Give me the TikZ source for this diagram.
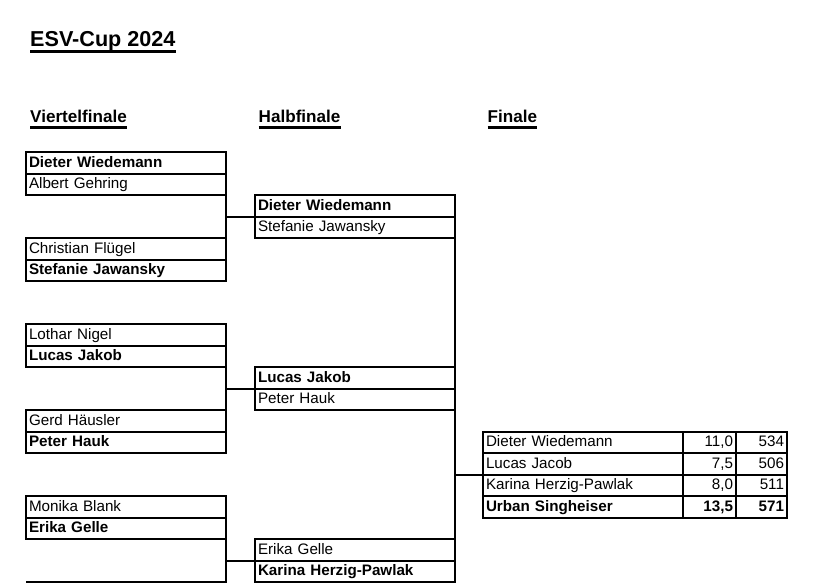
\documentclass[tikz,border=0pt]{standalone}
\usepackage{fontspec}
\setmainfont{Liberation Sans}
\usetikzlibrary{positioning}
\tikzset{
  % --- boxes
  cell/.style   = {rectangle, draw=black, line width=2pt, outer sep=0pt,
                   inner xsep=3pt, inner ysep=0pt, minimum height=21.5pt,
                   text height=11.5pt, text depth=2.5pt,
                   font=\fontsize{15.2}{18}\selectfont},
  player/.style = {cell, text width=194pt, align=left},
  winner/.style = {player, font=\fontsize{15.2}{18}\selectfont\bfseries},
  score/.style  = {cell, text width=47pt, align=right},
  points/.style = {cell, text width=45pt, align=right},
  best/.style   = {font=\fontsize{15.2}{18}\selectfont\bfseries},
  % --- headings
  title/.style  = {inner sep=0pt, anchor=base west,
                   font=\fontsize{21.6}{24}\selectfont\bfseries},
  head/.style   = {inner sep=0pt, anchor=base west,
                   font=\fontsize{17.1}{20}\selectfont\bfseries},
  % --- lines
  link/.style   = {draw=black, line width=2pt},
  uline/.style  = {draw=black, line width=2.8pt},
}
\begin{document}
\begin{tikzpicture}[x=1pt, y=-1pt]
  \useasboundingbox (0,0) rectangle (822,583);

  \node[title] (t) at (30,46.5) {ESV-Cup 2024};
  \draw[uline, line width=3.2pt] ([yshift=-5pt]t.base west) -- ([yshift=-5pt]t.base east);

  \node[head] (hv) at (30,123) {Viertelfinale};
  \node[head] (hh) at (258.5,123) {Halbfinale};
  \node[head] (hf) at (487.5,123) {Finale};
  \foreach \h in {hv,hh,hf}
    \draw[uline] ([yshift=-4.2pt]\h.base west) -- ([yshift=-4.2pt]\h.base east);

  % Viertelfinale
  \node[winner, anchor=north west] (q1a) at (26,152) {Dieter Wiedemann};
  \node[player, below=0pt of q1a] (q1b) {Albert Gehring};
  \node[player, anchor=north west] (q2a) at (26,238) {Christian Flügel};
  \node[winner, below=0pt of q2a] (q2b) {Stefanie Jawansky};
  \node[player, anchor=north west] (q3a) at (26,324) {Lothar Nigel};
  \node[winner, below=0pt of q3a] (q3b) {Lucas Jakob};
  \node[player, anchor=north west] (q4a) at (26,410) {Gerd Häusler};
  \node[winner, below=0pt of q4a] (q4b) {Peter Hauk};
  \node[player, anchor=north west] (q5a) at (26,496) {Monika Blank};
  \node[winner, below=0pt of q5a] (q5b) {Erika Gelle};
  \coordinate (q6) at (26,582);

  % Halbfinale
  \node[winner, anchor=north west] (s1a) at (255,195) {Dieter Wiedemann};
  \node[player, below=0pt of s1a] (s1b) {Stefanie Jawansky};
  \node[winner, anchor=north west] (s2a) at (255,367) {Lucas Jakob};
  \node[player, below=0pt of s2a] (s2b) {Peter Hauk};
  \node[player, anchor=north west] (s3a) at (255,539) {Erika Gelle};
  \node[winner, below=0pt of s3a] (s3b) {Karina Herzig-Pawlak};

  % Finale
  \node[player, anchor=north west] (f1) at (483,431.5) {Dieter Wiedemann};
  \node[player, below=0pt of f1] (f2) {Lucas Jacob};
  \node[player, below=0pt of f2] (f3) {Karina Herzig-Pawlak};
  \node[winner, below=0pt of f3] (f4) {Urban Singheiser};
  \node[score, right=0pt of f1] (f1s) {11,0};
  \node[score, right=0pt of f2] (f2s) {7,5};
  \node[score, right=0pt of f3] (f3s) {8,0};
  \node[score, best, right=0pt of f4] (f4s) {13,5};
  \node[points, right=0pt of f1s] (f1p) {534};
  \node[points, right=0pt of f2s] (f2p) {506};
  \node[points, right=0pt of f3s] (f3p) {511};
  \node[points, best, right=0pt of f4s] (f4p) {571};

  % bracket lines
  \foreach \a/\b/\s in {q1b.south east/q2a.north west/s1b,
                        q3b.south east/q4a.north west/s2b,
                        q5b.south east/q6/s3b}
    \draw[link] (\a) |- (\b) (\s.north west) -- (\s.north west -| \a);
  \draw[link] (s1b.south east) -- (s3a.north east);
  \draw[link] (f3.north west) -- (f3.north west -| s1a.east);
\end{tikzpicture}
\end{document}
